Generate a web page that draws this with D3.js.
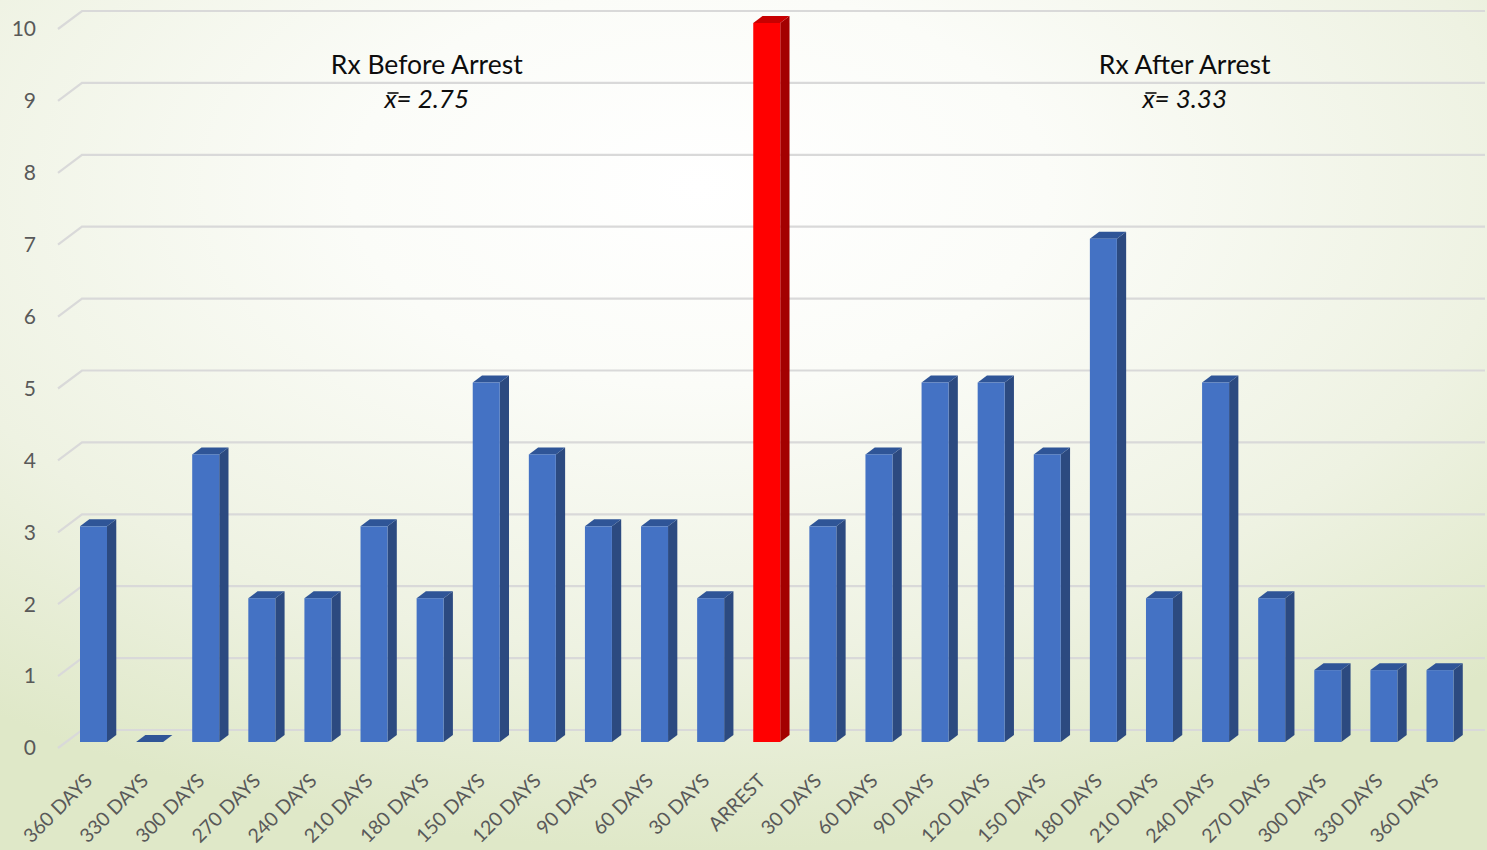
<!DOCTYPE html>
<html>
<head>
<meta charset="utf-8">
<script src="https://cdn.jsdelivr.net/npm/d3@7"></script>
<style>
html,body{margin:0;padding:0;background:#fff;}
svg{display:block;}
</style>
</head>
<body>
<svg id="chart" width="1487" height="850"></svg>
<script>
// ---- data ----
const categories = ["360 DAYS","330 DAYS","300 DAYS","270 DAYS","240 DAYS","210 DAYS","180 DAYS","150 DAYS","120 DAYS","90 DAYS","60 DAYS","30 DAYS","ARREST","30 DAYS","60 DAYS","90 DAYS","120 DAYS","150 DAYS","180 DAYS","210 DAYS","240 DAYS","270 DAYS","300 DAYS","330 DAYS","360 DAYS"];
const beforeValues = [3,0,4,2,2,3,2,5,4,3,3,2];
const arrestValue = [10];
const afterValues = [3,4,5,5,4,7,2,5,2,1,1,1];
const yTicks = [0,1,2,3,4,5,6,7,8,9,10];
const annotations = [
  {title:"Rx Before Arrest", mean:"2.75", center:5.94},
  {title:"Rx After Arrest", mean:"3.33", center:19.45}
];

const values = beforeValues.concat(arrestValue, afterValues);
const data = values.map((v,i)=>({i, cat:categories[i], v, arrest: i===12}));

const W = 1487, H = 850;
const svg = d3.select("#chart");

// background gradient
const defs = svg.append("defs");
const rg = defs.append("radialGradient").attr("id","bg")
  .attr("cx","47%").attr("cy","22%").attr("r","78%")
  .attr("gradientUnits","objectBoundingBox");
rg.append("stop").attr("offset","0%").attr("stop-color","#ffffff");
rg.append("stop").attr("offset","30%").attr("stop-color","#fbfcf8");
rg.append("stop").attr("offset","70%").attr("stop-color","#eef2e2");
rg.append("stop").attr("offset","100%").attr("stop-color","#dfe8c8");
svg.append("rect").attr("width",W).attr("height",H).attr("fill","url(#bg)");

// scales
const x = d3.scalePoint().domain(d3.range(values.length)).range([93.5, 1440]);
const y = d3.scaleLinear().domain([0,10]).range([748, 29]);
const depthX = 24, depthY = 18;   // floor depth (front -> back wall)
const barW = 27;
const barFront = 1/3, barBack = 0.72;  // bar position in depth fraction

// gridlines
const grid = svg.append("g");
yTicks.forEach(t=>{
  const yf = y(t), yb = y(t) - depthY;
  grid.append("path")
    .attr("d", `M58,${yf} L${58+depthX},${yb} L1485,${yb}`)
    .attr("fill","none").attr("stroke","#d9d9d9").attr("stroke-width",2.2);
});

// y labels
svg.append("g").selectAll("text").data(yTicks).join("text")
  .attr("x",36).attr("y",d=>y(d)).attr("dy","0.35em")
  .attr("text-anchor","end")
  .attr("font-family","Lato, 'Open Sans', sans-serif")
  .attr("font-size",21).attr("fill","#595959")
  .text(d=>d);

// bars
const colors = {
  blue:{front:"#4472c4", side:"#2c4a80", top:"#2f5597"},
  red:{front:"#ff0000", side:"#a30000", top:"#c80000"}
};
const bars = svg.append("g");
data.forEach(d=>{
  const c = d.arrest ? colors.red : colors.blue;
  const left = x(d.i) - barW/2;
  const right = left + barW;
  const base = y(0) - depthY*barFront;
  const topY = base - (y(0) - y(d.v));
  const ox = depthX*(barBack-barFront), oy = depthY*(barBack-barFront);
  bars.append("path")
    .attr("d", `M${right},${topY} L${right+ox},${topY-oy} L${right+ox},${base-oy} L${right},${base} Z`)
    .attr("fill", c.side);
  bars.append("path")
    .attr("d", `M${left},${topY} L${left+ox},${topY-oy} L${right+ox},${topY-oy} L${right},${topY} Z`)
    .attr("fill", c.top);
  if (d.v > 0) {
    bars.append("rect")
      .attr("x", left).attr("y", topY).attr("width", barW).attr("height", base-topY)
      .attr("fill", c.front);
  }
});

// x labels
svg.append("g").selectAll("text").data(data).join("text")
  .attr("transform", d=>`translate(${x(d.i)},${782}) rotate(-45)`)
  .attr("text-anchor","end")
  .attr("font-family","Lato, 'Open Sans', sans-serif")
  .attr("font-size",19.5).attr("fill","#595959")
  .text(d=>d.cat);

// annotations
const ann = svg.append("g").attr("font-family","Lato, 'Open Sans', sans-serif").attr("fill","#0d0d0d");
annotations.forEach(a=>{
  const cx = x(0) + (x(1)-x(0))*a.center;
  ann.append("text").attr("x",cx).attr("y",74).attr("text-anchor","middle")
    .attr("font-size",26.5).text(a.title);
  const t = ann.append("text").attr("x",cx).attr("y",108).attr("text-anchor","middle")
    .attr("font-size",26).attr("font-style","italic")
    .text("x= " + a.mean);
  const node = t.node();
  const s = node.getStartPositionOfChar(0), e = node.getEndPositionOfChar(0);
  ann.append("line")
    .attr("x1", s.x + 3).attr("x2", e.x + 2)
    .attr("y1", 108 - 15).attr("y2", 108 - 15)
    .attr("stroke","#0d0d0d").attr("stroke-width",1.6);
});
</script>
</body>
</html>
